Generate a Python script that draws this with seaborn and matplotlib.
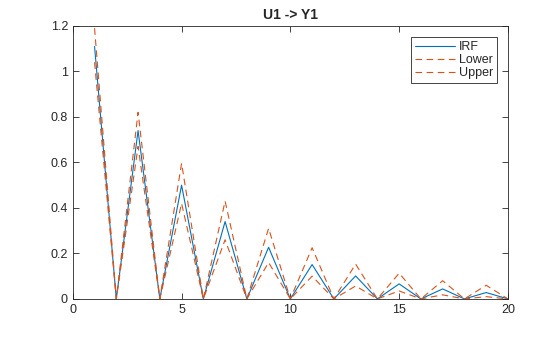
import numpy as np
import pandas as pd
import matplotlib
matplotlib.use("Agg")
import matplotlib.pyplot as plt
import seaborn as sns

steps = list(range(1, 21))
irf = [1.11, 0, 0.74, 0, 0.50, 0, 0.34, 0, 0.227, 0, 0.151, 0, 0.101, 0, 0.066, 0, 0.044, 0, 0.028, 0]
lower = [1.04, 0, 0.67, 0, 0.42, 0, 0.26, 0, 0.16, 0, 0.10, 0, 0.057, 0, 0.035, 0, 0.018, 0, 0.01, 0]
upper = [1.19, 0, 0.82, 0, 0.596, 0, 0.43, 0, 0.31, 0, 0.225, 0, 0.153, 0, 0.113, 0, 0.08, 0, 0.06, 0]
xticks = [0, 5, 10, 15, 20]
yticks = [0, 0.2, 0.4, 0.6, 0.8, 1.0, 1.2]
ytick_labels = ["0", "0.2", "0.4", "0.6", "0.8", "1", "1.2"]

sns.set_theme(style="white")
plt.rcParams['font.family'] = ['Liberation Sans', 'DejaVu Sans']

df = pd.DataFrame({
    "step": steps * 3,
    "value": irf + lower + upper,
    "series": ["IRF"] * 20 + ["Lower"] * 20 + ["Upper"] * 20,
})

fig = plt.figure(figsize=(5.6, 3.37), dpi=100)
ax = fig.add_axes([0.130, 0.113, 0.777, 0.810])
palette = {"IRF": "#0072BD", "Lower": "#D95319", "Upper": "#D95319"}
dashes = {"IRF": "", "Lower": (6, 4), "Upper": (6, 4)}
sns.lineplot(data=df, x="step", y="value", hue="series", style="series",
             palette=palette, dashes=dashes, linewidth=0.8, ax=ax, legend=True)

ax.set_xlim(0, 20)
ax.set_ylim(0, 1.2)
ax.set_xticks(xticks)
ax.set_xticklabels([str(t) for t in xticks])
ax.set_yticks(yticks)
ax.set_yticklabels(ytick_labels)
ax.set_xlabel("")
ax.set_ylabel("")
ax.set_title("U1 -> Y1", fontsize=10, fontweight="bold", pad=5)
ax.tick_params(direction="in", length=4, width=0.6, labelsize=9, colors="#262626",
               top=True, right=True, bottom=True, left=True, labeltop=False, labelright=False)
for s in ax.spines.values():
    s.set_color("#262626")
    s.set_linewidth(0.6)

leg = ax.legend(loc="upper right", fontsize=9, frameon=True, fancybox=False,
                edgecolor="#262626", framealpha=1, borderpad=0.3, labelspacing=0.1,
                handlelength=3.2, handletextpad=0.3, borderaxespad=0.9)
leg.get_frame().set_linewidth(0.6)

fig.savefig("out.png", dpi=100)
